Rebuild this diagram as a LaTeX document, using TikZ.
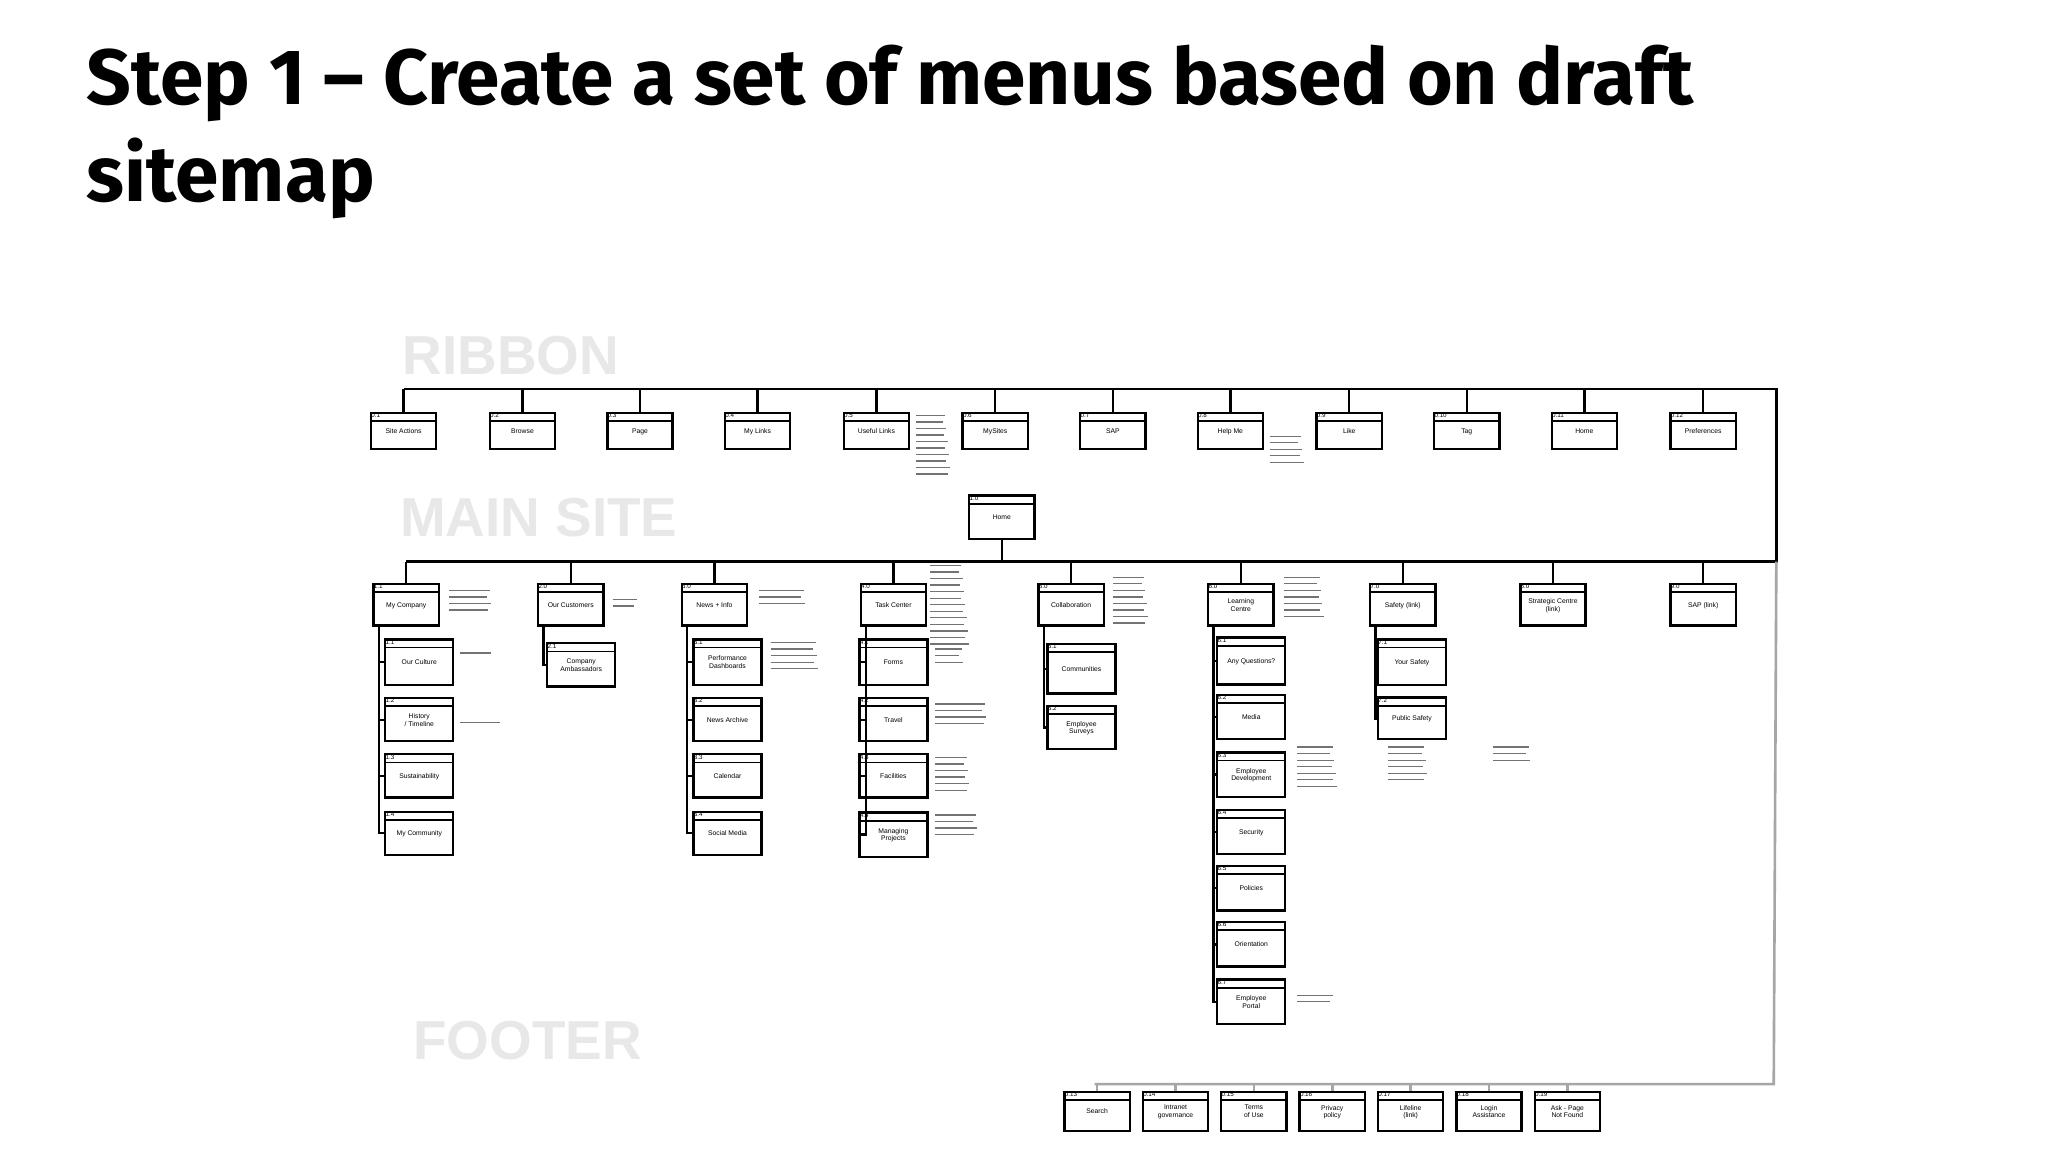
\documentclass[tikz,border=0pt]{standalone}
\usepackage{fontspec}
\setmainfont{Liberation Sans}
\newfontfamily\titlefont{Fira Sans}
\begin{document}
\begin{tikzpicture}[x=0.5pt,y=-0.5pt,
  bxs/.style={draw,line width=0.9pt,inner sep=0pt,align=center,font=\fontsize{2.6}{3}\selectfont,text depth=-3pt},
  ln/.style={line width=0.9pt},
  gl/.style={line width=1pt,draw=black!35},
  sec/.style={font=\fontsize{21}{21}\selectfont\bfseries,text=black!9,anchor=west,inner sep=0pt},
  an/.style={line width=0.5pt,draw=black!55}]
\useasboundingbox[fill=white] (0,0) rectangle (1568,882);
\node[anchor=north west,align=left,inner sep=0pt,font=\titlefont\bfseries\fontsize{30}{37}\selectfont] (title) at (66,34) {Step 1 – Create a set of menus based on draft\\sitemap};
\newcommand\bx[7]{%
  \node[bxs,minimum width=#4*0.5pt,minimum height=#5*0.5pt] (#1) at (#2,#3) {#7};
  \draw[line width=0.7pt] ([yshift=-3.6pt]#1.north west) -- ([yshift=-3.6pt]#1.north east);
  \node[anchor=north west,inner sep=0.4pt,font=\fontsize{2.4}{2.4}\selectfont] (#1id) at (#1.north west) {#6};}
\newcommand\anno[4]{% x y n width
  \foreach \i in {1,...,#3}{\draw[an] ({#1},{#2+\i*5-5}) -- ++({#4*0.7+\i*3-int(\i/2)*5},0);}}
% section labels
\node[sec] (rib) at (308,272) {RIBBON};
\node[sec] (ms) at (306,396) {MAIN SITE};
\node[sec] (ft) at (316,797) {FOOTER};
% ribbon
\coordinate (rl) at (309,298); \coordinate (rr) at (1360,298);
\coordinate (mr) at (1360,430); \coordinate (ml) at (311,430);
\coordinate (fr) at (1358,830); \coordinate (fl) at (838,830);
\draw[ln] (rl) -- (rr) -- (mr) -- (ml);
\draw[gl] (mr) -- (fr) -- (fl);
\foreach \n/\x/\t/\id in {r1/309/Site Actions/0.1,r2/400/Browse/0.2,r3/490/Page/0.3,r4/580/My Links/0.4,r5/671/Useful Links/0.5,r6/762/MySites/0.6,r7/852/SAP/0.7,r8/942/Help Me/0.8,r9/1033/Like/0.9,r10/1123/Tag/0.10,r11/1213/Home/0.11,r12/1304/Preferences/0.12}{
  \bx{\n}{\x}{330}{50}{28}{\id}{\t}
  \draw[ln] (\n.north) -- (\n.north |- rl);}
\anno{701}{318}{10}{28}
\anno{972}{334}{5}{30}
% home
\bx{home}{767}{396}{50}{33}{1.0}{Home}
\draw[ln] (home.south) -- (home.south |- ml);
% main
\foreach \n/\x/\t/\id in {m1/311/My Company/1.1,m2/437/Our Customers/2.0,m3/547/News + Info/3.0,m4/684/Task Center/4.0,m5/820/Collaboration/5.0,m6/950/Learning\\Centre/6.0,m7/1074/Safety (link)/7.0,m8/1189/Strategic Centre\\(link)/8.0,m9/1304/SAP (link)/9.0}{
  \bx{\n}{\x}{463}{50}{32}{\id}{\t}
  \draw[ln] (\n.north) -- (\n.north |- ml);}
\anno{344}{452}{4}{40}
\anno{469}{459}{2}{22}
\anno{581}{452}{3}{45}
\anno{712}{433}{13}{30}
\anno{852}{442}{8}{30}
\anno{983}{442}{7}{35}
% children
\newcommand\kids[3]{% parent, list, xoffset
  \foreach \c/\cx/\cy/\ch/\t/\id in {#2}{
    \bx{\c}{\cx}{\cy}{52}{\ch}{\id}{\t}
    \draw[ln] ([xshift=#3pt]#1.south west) |- (\c.west);}}
\kids{m1}{c11/321/507/35/Our Culture/1.1,c12/321/551/33/{History\\/ Timeline}/1.2,c13/321/594/33/Sustainability/1.3,c14/321/638/33/My Community/1.4}{2.5}
\kids{m2}{c21/445/509/33/Company\\Ambassadors/2.1}{2.5}
\kids{m3}{c31/557/507/35/Performance\\Dashboards/3.1,c32/557/551/33/News Archive/3.2,c33/557/594/33/Calendar/3.3,c34/557/638/33/Social Media/3.4}{2.5}
\kids{m4}{c41/684/507/35/Forms/4.1,c42/684/551/33/Travel/4.2,c43/684/594/33/Facilities/4.3,c44/684/639/34/Managing\\Projects/4.4}{2.5}
\kids{m5}{c51/828/512/38/Communities/5.1,c52/828/557/33/Employee\\Surveys/5.2}{2.5}
\kids{m6}{c61/958/506/36/Any Questions?/6.1,c62/958/549/34/Media/6.2,c63/958/593/34/Employee\\Development/6.3,c64/958/637/34/Security/6.4,c65/958/680/34/Policies/6.5,c66/958/723/34/Orientation/6.6,c67/958/767/34/Employee\\Portal/6.7}{2.5}
\kids{m7}{c71/1081/507/35/Your Safety/7.1,c72/1081/550/32/Public Safety/7.2}{2.5}
\anno{352}{500}{1}{30}
\anno{352}{553}{1}{40}
\anno{590}{492}{5}{45}
\anno{716}{497}{3}{25}
\anno{716}{539}{4}{50}
\anno{716}{580}{6}{30}
\anno{716}{624}{4}{40}
\anno{993}{572}{7}{35}
\anno{1063}{572}{6}{35}
\anno{1143}{572}{3}{35}
\anno{993}{762}{2}{35}
% footer
\foreach \n/\x/\t/\id in {f1/840/Search/0.13,f2/900/Intranet\\governance/0.14,f3/960/Terms\\of Use/0.15,f4/1020/Privacy\\policy/0.16,f5/1080/Lifeline\\(link)/0.17,f6/1140/Login\\Assistance/0.18,f7/1200/Ask - Page\\Not Found/0.19}{
  \bx{\n}{\x}{851}{50}{30}{\id}{\t}
  \draw[gl] (\n.north) -- (\n.north |- fl);}
\end{tikzpicture}
\end{document}
